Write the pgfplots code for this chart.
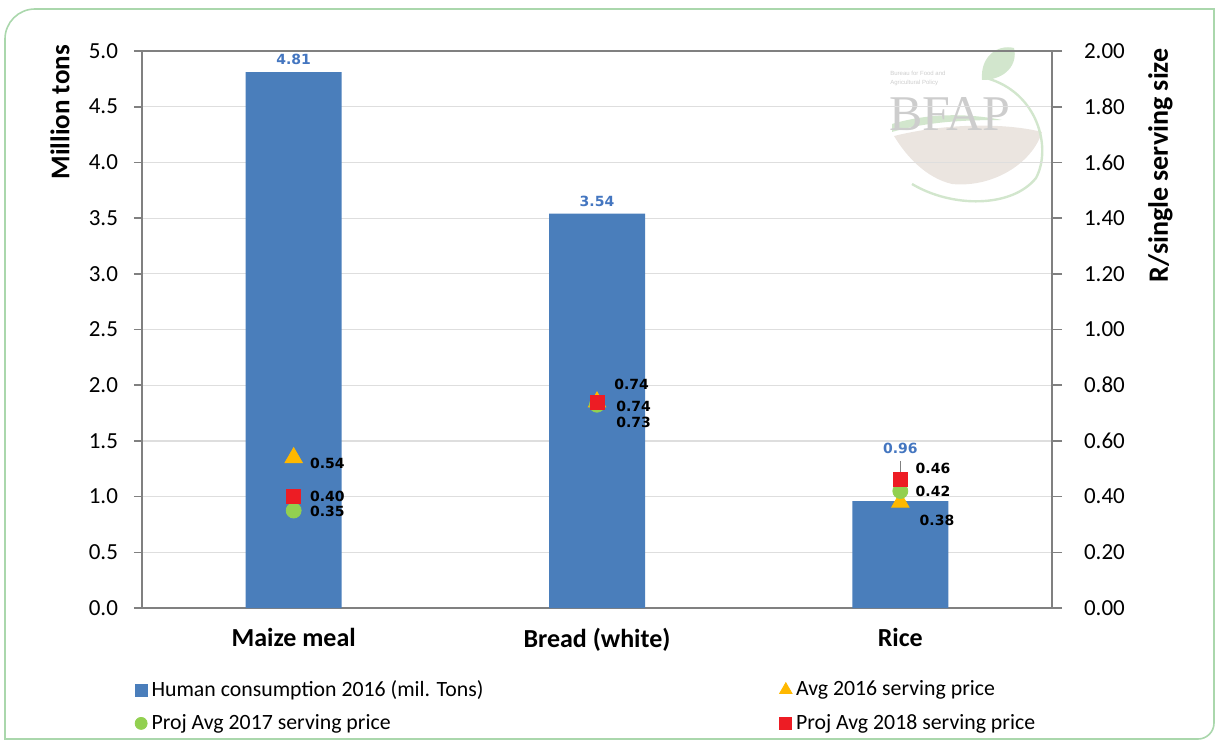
\documentclass[border=0pt]{standalone}
\usepackage{fontspec}
\setmainfont{Carlito}
\newfontfamily\dvsans{DejaVu Sans}
\newfontfamily\logoserif{Liberation Serif}
\newfontfamily\logosans{Liberation Sans}
\usepackage{pgfplots}
\pgfplotsset{compat=1.18}
\usepackage{pgfplotstable}

\definecolor{barblue}{RGB}{74,126,187}
\definecolor{lblblue}{RGB}{68,118,192}
\definecolor{triorange}{RGB}{255,184,0}
\definecolor{circgreen}{RGB}{146,208,80}
\definecolor{sqred}{RGB}{237,28,36}
\definecolor{axgray}{RGB}{128,128,128}
\definecolor{gridgray}{RGB}{222,222,222}
\definecolor{framegreen}{RGB}{170,215,172}
\definecolor{logogray}{RGB}{205,205,205}
\definecolor{logogreen}{RGB}{210,230,205}
\definecolor{logobrown}{RGB}{235,229,224}

% consumption, million tons (dy = extra label lift)
\pgfplotstableread{
x y dy
0 4.81 0
1 3.54 0
2 0.96 20
}\consumption

% serving prices, R (dx, dy = label offsets in pt)
\pgfplotstableread{
x y dx dy
0 0.54 8 -3
1 0.74 9.5 -2
2 0.38 9.5 -9
}\avgsixteen

\pgfplotstableread{
x y dx dy
0 0.35 8 -0.5
1 0.73 9.5 -9
2 0.42 7.5 0
}\projseventeen

\pgfplotstableread{
x y dx dy
0 0.40 8 0
1 0.74 8.5 9
2 0.46 7.5 5.5
}\projeighteen

\pgfplotsset{
  pricelabels/.style={
    nodes near coords={\pgfmathprintnumber[fixed,fixed zerofill,precision=2]{\pgfplotspointmeta}},
    visualization depends on={\thisrow{dx} \as \dx},
    visualization depends on={\thisrow{dy} \as \dy},
    every node near coord/.append style={anchor=west, font=\dvsans\bfseries\fontsize{7}{8}\selectfont,
      text=black, xshift=\dx pt, yshift=\dy pt, inner sep=0pt},
  },
  singlemark/.style={legend image code/.code={\draw[##1, mark size=#1] plot coordinates {(0pt,0pt)};}},
  barsquare/.style={legend image code/.code={\fill[barblue] (-3pt,-3pt) rectangle (3pt,3pt);}},
}

\begin{document}
\begin{tikzpicture}
\useasboundingbox (-71pt,-66pt) rectangle (536.5pt,304pt);

% frame
\draw[framegreen, line width=0.8pt] (-68.5pt,-65.5pt) -- (-68.5pt,284.5pt)
  arc[start angle=180, end angle=90, radius=15pt] -- (536pt,299.5pt) -- (536pt,-57.5pt)
  arc[start angle=0, end angle=-90, radius=8pt] -- cycle;

% faint logo
\fill[logobrown] (376pt,236pt) .. controls (400pt,242pt) and (430pt,243pt) .. (450pt,238pt)
  .. controls (445pt,222pt) and (425pt,210pt) .. (405pt,212pt)
  .. controls (392pt,215pt) and (382pt,226pt) .. (376pt,236pt);
\fill[logogreen] (375pt,242pt) .. controls (395pt,248pt) and (415pt,247pt) .. (430pt,244pt)
  .. controls (410pt,244pt) and (392pt,243pt) .. (375pt,238pt) -- cycle;
\draw[logogreen, line width=1.2pt] (422pt,265pt) .. controls (448pt,258pt) and (455pt,230pt) .. (447pt,215pt)
  .. controls (435pt,200pt) and (405pt,200pt) .. (385pt,212pt);
\fill[logogreen] (420pt,264pt) .. controls (419pt,276pt) and (428pt,282pt) .. (436pt,280pt)
  .. controls (438pt,272pt) and (432pt,264pt) .. (420pt,264pt);
\node[anchor=center, text=logogray, font=\logoserif\fontsize{25}{25}\selectfont, inner sep=0pt] at (404pt,247pt) {BFAP};
\node[anchor=west, text=logogray, font=\logosans\fontsize{3}{4.5}\selectfont, align=left, inner sep=0pt]
  at (374pt,265pt) {Bureau for Food and\\Agricultural Policy};

% bars, left axis
\begin{axis}[
  at={(0pt,0pt)}, anchor=south west,
  scale only axis, width=455pt, height=278.5pt,
  xmin=-0.5, xmax=2.5, ymin=0, ymax=5,
  xtick={0,1,2}, xticklabels={Maize meal, Bread (white), Rice},
  xticklabel style={font=\bfseries\fontsize{13}{15}\selectfont, yshift=-2.5pt},
  x tick style={draw=none},
  ytick={0,0.5,1,1.5,2,2.5,3,3.5,4,4.5,5},
  yticklabel style={/pgf/number format/fixed, /pgf/number format/fixed zerofill,
    /pgf/number format/precision=1, font=\fontsize{11.5}{13}\selectfont, xshift=-4.5pt},
  /pgf/number format/assume math mode=true,
  ytick pos=left, tick align=outside, major tick length=4pt,
  y tick style={axgray, line width=0.8pt},
  axis line style={axgray, line width=0.8pt},
  ymajorgrids, grid style={gridgray, line width=0.6pt},
  ylabel={Million tons},
  ylabel style={font=\bfseries\fontsize{13.5}{15}\selectfont, at={(axis description cs:-0.09,0.89)}, anchor=center},
]
\addplot[ybar, bar width=48pt, fill=barblue, draw=none,
  nodes near coords={\pgfmathprintnumber[fixed,fixed zerofill,precision=2]{\pgfplotspointmeta}},
  visualization depends on={\thisrow{dy} \as \dy},
  every node near coord/.append style={font=\dvsans\bfseries\fontsize{7}{8}\selectfont, text=lblblue, yshift=\dy pt},
] table[x=x, y=y] {\consumption};
% leader line from the rice label to its bar
\draw[axgray, line width=0.4pt] (axis cs:2,1.32) -- (axis cs:2,1.12);
\end{axis}

% serving prices, right axis
\begin{axis}[
  at={(0pt,0pt)}, anchor=south west,
  scale only axis, width=455pt, height=278.5pt,
  xmin=-0.5, xmax=2.5, ymin=0, ymax=2,
  axis x line=none, axis y line*=right,
  ytick={0,0.2,0.4,0.6,0.8,1,1.2,1.4,1.6,1.8,2},
  yticklabel style={/pgf/number format/fixed, /pgf/number format/fixed zerofill,
    /pgf/number format/precision=2, font=\fontsize{11.5}{13}\selectfont, xshift=7.5pt},
  /pgf/number format/assume math mode=true,
  tick align=outside, major tick length=5pt,
  y tick style={axgray, line width=0.8pt},
  axis line style={axgray, line width=0.8pt},
  ylabel={R/single serving size},
  ylabel style={font=\bfseries\fontsize{14}{16}\selectfont, at={(axis description cs:1.119,0.795)}, anchor=center},
  legend columns=2, legend cell align=left,
  legend style={at={(axis description cs:-0.015,-0.115)}, anchor=north west, draw=none, fill=none,
    font=\fontsize{10.9}{12.5}\selectfont, row sep=3.5pt,
    /tikz/every even column/.append style={column sep=146pt}},
]
\addlegendimage{barsquare}
\addlegendentry{Human consumption 2016 (mil. Tons)}

\addplot[only marks, mark=triangle*, mark size=5pt, color=triorange, pricelabels, singlemark=3.6pt]
  table[x=x, y=y] {\avgsixteen};
\addlegendentry{Avg 2016 serving price}

\addplot[only marks, mark=*, mark size=3.75pt, color=circgreen, pricelabels, singlemark=3pt]
  table[x=x, y=y] {\projseventeen};
\addlegendentry{Proj Avg 2017 serving price}

\addplot[only marks, mark=square*, mark size=3.5pt, color=sqred, pricelabels, singlemark=3pt]
  table[x=x, y=y] {\projeighteen};
\addlegendentry{Proj Avg 2018 serving price}
\end{axis}
\end{tikzpicture}
\end{document}
